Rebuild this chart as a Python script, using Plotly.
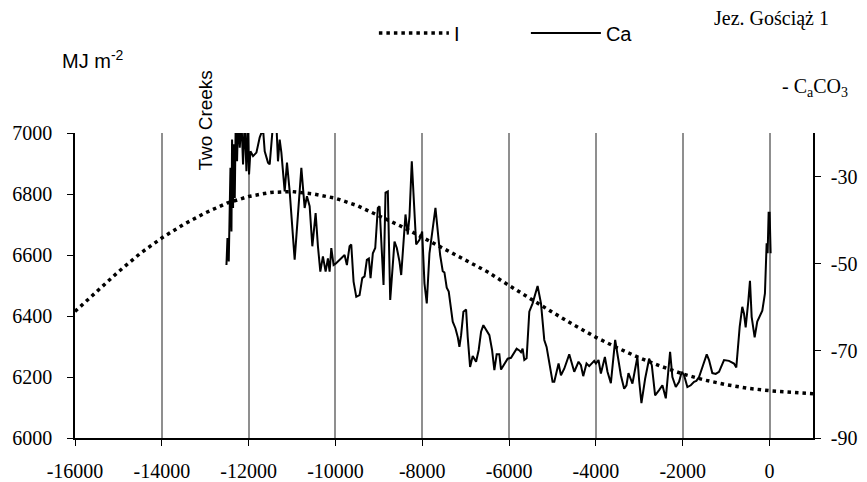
import plotly.graph_objects as go

# Insolation (I), MJ m-2, left axis
i_years = [-16000, -15500, -15000, -14500, -14000, -13500, -13000, -12500, -12000,
           -11500, -11000, -10500, -10000, -9500, -9000, -8500, -8000, -7500, -7000,
           -6500, -6000, -5500, -5000, -4500, -4000, -3500, -3000, -2500, -2000,
           -1500, -1000, -500, 0, 500, 1000]
i_values = [6415, 6480, 6545, 6605, 6656, 6700, 6738, 6770, 6792,
            6805, 6808, 6800, 6786, 6762, 6730, 6695, 6658, 6620, 6585,
            6545, 6500, 6455, 6412, 6370, 6330, 6295, 6263, 6235, 6210,
            6190, 6175, 6163, 6155, 6150, 6145]

# Ca (CaCO3), right axis
ca_years = [-12511, -12488, -12458, -12419, -12396, -12382, -12359, -12343, -12320, -12297,
            -12267, -12244, -12205, -12166, -12129, -12090, -12051, -12021, -11991, -11959,
            -11899, -11821, -11745, -11669, -11630, -11554, -11515, -11439, -11361, -11324,
            -11285, -11246, -11170, -11117, -11055, -10940, -10786, -10710, -10657, -10595,
            -10533, -10457, -10404, -10349, -10289, -10227, -10174, -10135, -10096, -10043,
            -9997, -9905, -9790, -9737, -9675, -9636, -9583, -9521, -9445, -9383,
            -9330, -9277, -9231, -9192, -9139, -9084, -9024, -8985, -8946, -8893,
            -8847, -8794, -8739, -8640, -8587, -8525, -8486, -8433, -8387, -8334,
            -8295, -8242, -8180, -8141, -8065, -8003, -7950, -7897, -7835, -7697,
            -7589, -7529, -7490, -7437, -7391, -7336, -7299, -7237, -7184, -7145,
            -7106, -7053, -6991, -6954, -6899, -6839, -6761, -6701, -6646, -6593,
            -6517, -6455, -6393, -6340, -6287, -6225, -6186, -6110, -6034, -5956,
            -5880, -5827, -5765, -5726, -5689, -5650, -5597, -5535, -5459, -5344,
            -5266, -5190, -5137, -5075, -4999, -4960, -4861, -4806, -4730, -4615,
            -4539, -4500, -4401, -4346, -4293, -4217, -4155, -4040, -4001, -3941,
            -3886, -3794, -3734, -3656, -3557, -3481, -3426, -3350, -3297, -3251,
            -3159, -3081, -3045, -3005, -2952, -2867, -2775, -2713, -2637, -2545,
            -2469, -2391, -2292, -2239, -2161, -2085, -2023, -1970, -1894, -1816,
            -1740, -1687, -1625, -1533, -1448, -1395, -1319, -1241, -1165, -1050,
            -935, -820, -767, -689, -629, -590, -551, -491, -452, -413,
            -344, -284, -168, -107, -68, -45, -22, 1, 24]
ca_values = [-50.3, -44.1, -49.5, -28.0, -42.6, -21.5, -37.2, -22.6, -34.9, -17.0,
             -26.5, -17.0, -23.4, -17.0, -27.2, -17.0, -28.8, -18.0, -29.5, -24.2,
             -25.3, -24.5, -21.0, -19.0, -24.2, -26.8, -27.2, -18.0, -18.0, -26.5,
             -21.5, -24.5, -33.4, -26.8, -33.4, -49.1, -28.0, -37.2, -34.5, -36.8,
             -46.0, -38.4, -46.0, -51.8, -48.3, -51.8, -48.8, -51.8, -46.4, -50.3,
             -50.0, -49.1, -48.0, -50.3, -46.0, -45.6, -54.1, -57.6, -57.2, -53.3,
             -52.9, -49.1, -48.8, -53.3, -47.6, -46.4, -37.2, -36.8, -43.8, -54.9,
             -33.7, -33.4, -58.3, -44.9, -46.4, -49.5, -52.6, -46.0, -38.7, -43.3,
             -39.1, -26.5, -38.4, -45.6, -44.5, -42.6, -54.5, -59.1, -47.6, -37.2,
             -48.0, -51.7, -52.0, -55.5, -56.4, -60.2, -63.3, -64.8, -66.8, -69.1,
             -66.4, -61.0, -60.5, -66.8, -73.7, -71.2, -72.5, -69.8, -65.6, -64.1,
             -65.2, -66.4, -69.8, -74.4, -70.8, -70.8, -74.3, -72.9, -71.8, -71.6,
             -70.5, -69.5, -69.9, -70.3, -69.5, -72.1, -71.7, -61.0, -59.1, -55.1,
             -59.1, -67.5, -69.1, -72.5, -77.1, -77.1, -72.9, -75.6, -74.1, -70.8,
             -73.3, -74.8, -72.5, -73.3, -75.8, -72.9, -73.5, -72.3, -72.9, -72.1,
             -75.2, -71.4, -74.8, -77.4, -67.5, -72.1, -75.6, -78.7, -77.9, -75.1,
             -77.5, -73.3, -71.4, -76.8, -82.0, -76.4, -71.8, -73.3, -80.2, -79.0,
             -77.9, -80.9, -70.2, -76.0, -78.3, -77.1, -74.8, -75.6, -78.3, -77.9,
             -77.1, -76.9, -76.0, -73.3, -70.8, -72.1, -75.1, -75.3, -74.8, -72.1,
             -72.3, -72.9, -73.8, -64.5, -59.9, -61.4, -64.6, -58.7, -53.9, -62.2,
             -66.9, -63.3, -60.8, -56.8, -45.3, -47.6, -38.3, -38.3, -47.6]

x_ticks = [-16000, -14000, -12000, -10000, -8000, -6000, -4000, -2000, 0]
x_ticktext = ["-16000", "-14000", "-12000", "-10000", "-8000", "-6000", "-4000", "-2000", "0"]
y_ticks = [6000, 6200, 6400, 6600, 6800, 7000]
y2_ticks = [-90, -70, -50, -30]
y2_ticktext = ["-90", "-70", "-50", "-30"]

serif = "Liberation Serif"
sans = "Liberation Sans"

fig = go.Figure()
fig.add_trace(go.Scatter(
    x=i_years, y=i_values, name="I", mode="lines",
    line=dict(color="black", width=3.5, dash="3.5px,4px"),
    yaxis="y"))
fig.add_trace(go.Scatter(
    x=ca_years, y=ca_values, name="Ca", mode="lines",
    line=dict(color="black", width=2),
    yaxis="y2"))

fig.update_layout(
    width=867, height=482,
    margin=dict(l=75, r=54, t=133, b=44, autoexpand=False),
    paper_bgcolor="white", plot_bgcolor="white",
    showlegend=True,
    legend=dict(orientation="h", x=0.405, xanchor="left", y=1.328, yanchor="middle",
                font=dict(family=sans, size=20, color="black"),
                bgcolor="rgba(0,0,0,0)", itemwidth=70, entrywidth=67),
    xaxis=dict(range=[-16000, 1000], tickvals=x_ticks, ticktext=x_ticktext,
               automargin=False,
               showgrid=True, gridcolor="#8f8f8f", gridwidth=2,
               showline=True, linecolor="black", linewidth=1.5,
               ticks="outside", ticklen=6, tickcolor="black",
               ticklabelstandoff=8,
               tickfont=dict(family=serif, size=20, color="black"),
               zeroline=False),
    yaxis=dict(range=[6000, 7000], tickvals=y_ticks, showgrid=False,
               automargin=False,
               showline=True, linecolor="black", linewidth=1.5,
               ticks="outside", ticklen=6, tickcolor="black",
               ticklabelstandoff=11,
               tickfont=dict(family=serif, size=20, color="black"),
               zeroline=False),
    yaxis2=dict(range=[-90, -20], tickvals=y2_ticks, ticktext=y2_ticktext,
                overlaying="y", side="right",
                automargin=False,
                showgrid=False, showline=True, linecolor="black", linewidth=1.5,
                ticks="outside", ticklen=6, tickcolor="black",
                ticklabelstandoff=6,
                tickfont=dict(family=serif, size=20, color="black"),
                zeroline=False),
    annotations=[
        dict(text="Jez. Gościąż 1", xref="paper", yref="paper", x=0.863, y=1.377,
             xanchor="left", yanchor="middle", showarrow=False,
             font=dict(family=serif, size=20, color="black")),
        dict(text="MJ m<sup>-2</sup>", xref="paper", yref="paper", x=-0.02, y=1.24,
             xanchor="left", yanchor="middle", showarrow=False,
             font=dict(family=sans, size=20, color="black")),
        dict(text="- C<sub>a</sub>CO<sub>3</sub>", xref="paper", yref="paper", x=0.955, y=1.148,
             xanchor="left", yanchor="middle", showarrow=False,
             font=dict(family=serif, size=20, color="black")),
        dict(text="Two Creeks", xref="x", yref="paper", x=-12990, y=1.04,
             xanchor="center", yanchor="middle", textangle=-90, showarrow=False,
             font=dict(family=sans, size=19, color="black")),
    ],
)

fig.write_html("out.html")
